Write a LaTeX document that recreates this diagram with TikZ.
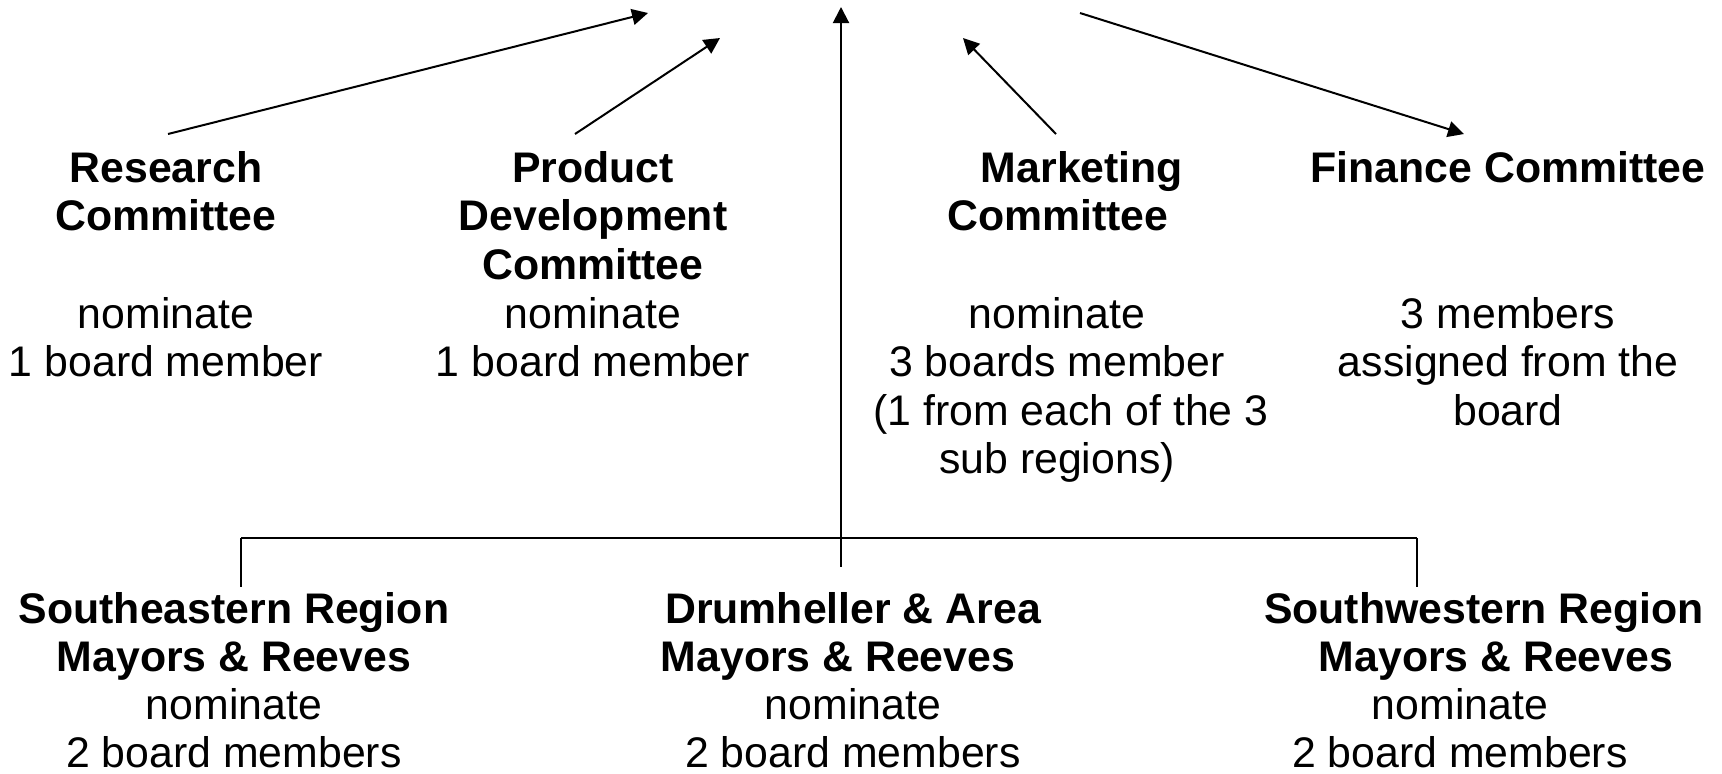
\documentclass[tikz,border=0pt]{standalone}
\usepackage{fontspec}
\setmainfont{Liberation Sans}
\usetikzlibrary{%
  arrows.meta,%
  calc%
}

\begin{document}
\begin{tikzpicture}[
  x=0.5pt, y=-0.5pt,
  font=\fontsize{21.4}{24.25}\selectfont,
  >={Triangle[length=8pt,width=8pt]},
  line width=1pt,
  title/.style={font=\fontsize{21.4}{24.25}\selectfont\bfseries,
    align=center, anchor=north, inner sep=0pt},
  body/.style={align=center, anchor=north, inner sep=0pt},
]
\useasboundingbox (0,0) rectangle (1722,773);

% committees
\node[title] (research) at (166,150) {Research\\Committee};
\node[body] (researchtxt) at (166,296) {nominate\\1 board member};
\node[title] (product) at (593,150) {Product\\Development\\Committee};
\node[body] (producttxt) at (593,296) {nominate\\1 board member};
\node[title] (marketing) at (1058,150) {\hspace*{24pt}Marketing\\Committee};
\node[body] (marketingtxt) at (1057,296)
  {nominate\\3 boards member\\\hspace*{14pt}(1 from each of the 3\\sub regions)};
\node[title] (finance) at (1508,150) {Finance Committee};
\node[body] (financetxt) at (1508,296) {3 members\\assigned from the\\board};

% regions
\node[title] (sereg) at (234,591) {Southeastern Region\\Mayors \& Reeves};
\node[body] (seregtxt) at (234,687) {nominate\\2 board members};
\node[title] (dareg) at (853,591) {Drumheller \& Area\\Mayors \& Reeves\hspace*{15pt}\null};
\node[body] (daregtxt) at (853,687) {nominate\\2 board members};
\node[title] (swreg) at (1484,591) {Southwestern Region\\\hspace*{12pt}Mayors \& Reeves};
\node[body] (swregtxt) at (1460,687) {nominate\\2 board members};

\coordinate (board) at (841,7);
\coordinate (rtip) at (648,13);
\coordinate (ptip) at (720,38);
\coordinate (mtip) at (963,38);
\coordinate (ftail) at (1080,13);
\coordinate (busl) at (241,538);
\coordinate (busm) at (841,538);
\coordinate (busr) at (1417,538);

\draw [->] ([shift={(2,-16)}]research.north) -- (rtip);
\draw [->] ([shift={(-18,-16)}]product.north) -- (ptip);
\draw [->] ([shift={(-2,-16)}]marketing.north) -- (mtip);
\draw [->] (ftail) -- ([shift={(-44,-16)}]finance.north);
\draw [->] (busm) -- (board);

\draw [line width=1.2pt] (busl) -- (busr);
\draw [line width=0.8pt] (busl) -- ($(busl |- sereg.north)+(0,-4)$);
\draw [line width=0.8pt] (busm) -- ($(busm |- dareg.north)+(0,-24)$);
\draw [line width=0.8pt] (busr) -- ($(busr |- swreg.north)+(0,-4)$);

\end{tikzpicture}
\end{document}
